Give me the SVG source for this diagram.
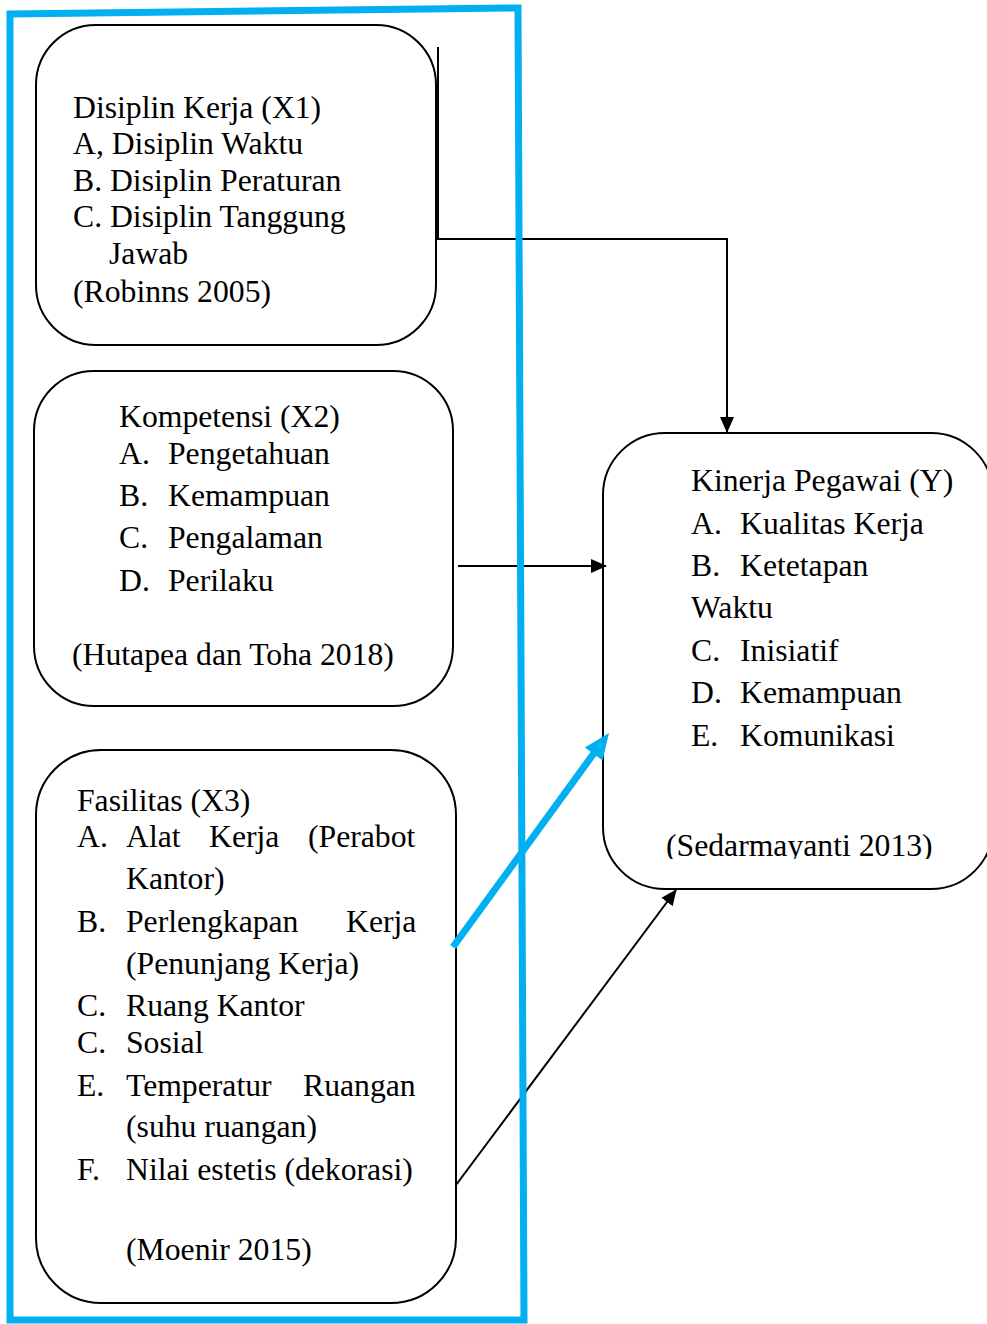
<svg xmlns="http://www.w3.org/2000/svg" width="987" height="1324" viewBox="0 0 987 1324">
<style>
.box{fill:none;stroke:#000;stroke-width:2}
.t{font-family:"Liberation Serif","Times New Roman",serif;font-size:31.7px;fill:#000}
.con{fill:none;stroke:#000;stroke-width:2}
.blue{fill:none;stroke:#00B0F0;stroke-width:7}
</style>
<defs>
<marker id="ah" viewBox="0 0 16 14" refX="15" refY="7" markerWidth="16" markerHeight="14" markerUnits="userSpaceOnUse" orient="auto">
<path d="M0,0 L16,7 L0,14 z" fill="#000"/>
</marker>
<clipPath id="clipY"><rect x="600" y="430" width="400" height="429"/></clipPath>
</defs>
<rect width="987" height="1324" fill="#fff"/>

<g id="node-x1">
<rect class="box" x="36" y="25" width="400" height="320" rx="60" ry="60"/>
<text class="t" x="73" y="118">Disiplin Kerja (X1)</text>
<text class="t" x="73" y="154">A, Disiplin Waktu</text>
<text class="t" x="73" y="191">B. Disiplin Peraturan</text>
<text class="t" x="73" y="227">C. Disiplin Tanggung</text>
<text class="t" x="109" y="264">Jawab</text>
<text class="t" x="73" y="302">(Robinns 2005)</text>
</g>

<g id="node-x2">
<rect class="box" x="34" y="371" width="419" height="335" rx="60" ry="60"/>
<text class="t" x="119" y="427">Kompetensi (X2)</text>
<text class="t" y="464"><tspan x="119">A.</tspan><tspan x="168">Pengetahuan</tspan></text>
<text class="t" y="506"><tspan x="119">B.</tspan><tspan x="168">Kemampuan</tspan></text>
<text class="t" y="548"><tspan x="119">C.</tspan><tspan x="168">Pengalaman</tspan></text>
<text class="t" y="591"><tspan x="119">D.</tspan><tspan x="168">Perilaku</tspan></text>
<text class="t" x="72" y="665">(Hutapea dan Toha 2018)</text>
</g>

<g id="node-x3">
<rect class="box" x="36" y="750" width="420" height="553" rx="65" ry="65"/>
<text class="t" x="77" y="811">Fasilitas (X3)</text>
<text class="t" y="847"><tspan x="77">A.</tspan><tspan x="126">Alat</tspan><tspan x="209">Kerja</tspan><tspan x="308">(Perabot</tspan></text>
<text class="t" x="126" y="889">Kantor)</text>
<text class="t" y="932"><tspan x="77">B.</tspan><tspan x="126">Perlengkapan</tspan><tspan x="346">Kerja</tspan></text>
<text class="t" x="126" y="974">(Penunjang Kerja)</text>
<text class="t" y="1016"><tspan x="77">C.</tspan><tspan x="126">Ruang Kantor</tspan></text>
<text class="t" y="1053"><tspan x="77">C.</tspan><tspan x="126">Sosial</tspan></text>
<text class="t" y="1096"><tspan x="77">E.</tspan><tspan x="126">Temperatur</tspan><tspan x="303">Ruangan</tspan></text>
<text class="t" x="126" y="1137">(suhu ruangan)</text>
<text class="t" y="1180"><tspan x="77">F.</tspan><tspan x="126">Nilai estetis (dekorasi)</tspan></text>
<text class="t" x="126" y="1260">(Moenir 2015)</text>
</g>

<g id="node-y">
<rect class="box" x="603" y="433" width="390" height="456" rx="62" ry="62"/>
<text class="t" x="691" y="491">Kinerja Pegawai (Y)</text>
<text class="t" y="534"><tspan x="691">A.</tspan><tspan x="740">Kualitas Kerja</tspan></text>
<text class="t" y="576"><tspan x="691">B.</tspan><tspan x="740">Ketetapan</tspan></text>
<text class="t" x="691" y="618">Waktu</text>
<text class="t" y="661"><tspan x="691">C.</tspan><tspan x="740">Inisiatif</tspan></text>
<text class="t" y="703"><tspan x="691">D.</tspan><tspan x="740">Kemampuan</tspan></text>
<text class="t" y="746"><tspan x="691">E.</tspan><tspan x="740">Komunikasi</tspan></text>
<text class="t" x="666" y="856" clip-path="url(#clipY)">(Sedarmayanti 2013)</text>
</g>

<g id="connectors">
<path class="con" d="M438,47 L438,239 L727,239 L727,432" marker-end="url(#ah)"/>
<path class="con" d="M458,566 L606,566" marker-end="url(#ah)"/>
<path class="con" d="M456,1185 L676,890" marker-end="url(#ah)"/>
<path class="blue" d="M453,947 L597,749"/>
<polygon points="609,733 602.6,760.5 584.8,747.5" fill="#00B0F0"/>
</g>

<g id="frame">
<path class="blue" d="M10,14 L518,8 L524,1320 L10,1320 Z" stroke-linejoin="miter"/>
</g>
</svg>
